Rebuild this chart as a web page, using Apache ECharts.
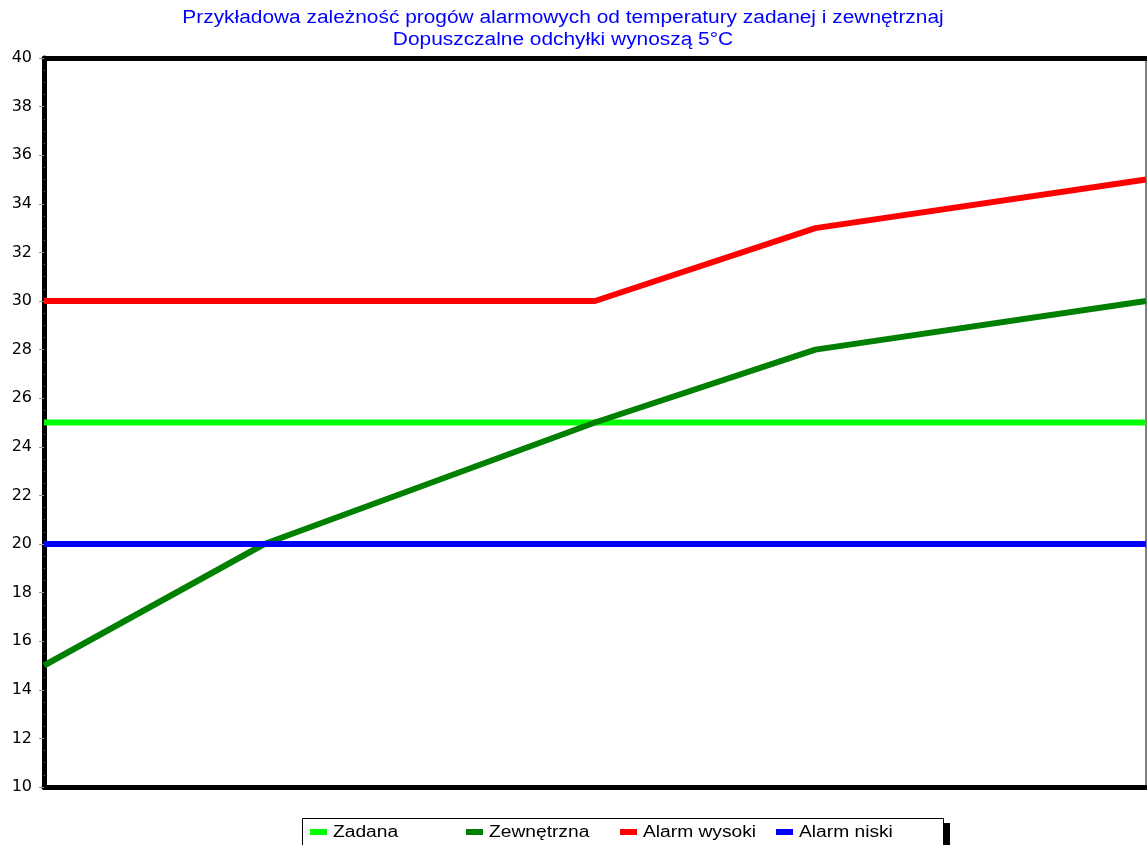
<!DOCTYPE html>
<html>
<head>
<meta charset="utf-8">
<title>Progi alarmowe</title>
<style>
  html, body { margin: 0; padding: 0; width: 100%; height: 100%; background: #fff; }
  #main { width: 1147px; height: 845px; }
</style>
<script src="https://cdn.jsdelivr.net/npm/echarts@6/dist/echarts.min.js"></script>
</head>
<body>
<div id="main"></div>
<script>
// punkty na osi X (bez opisu na wykresie)
var xPoints = [0, 20, 50, 70, 100];
var zadana = [25, 25, 25, 25, 25];
var zewnetrzna = [15, 20, 25, 28, 30];
var alarmWysoki = [30, 30, 30, 33, 35];
var alarmNiski = [20, 20, 20, 20, 20];

var titleLines = [
  'Przykładowa zależność progów alarmowych od temperatury zadanej i zewnętrznaj',
  'Dopuszczalne odchyłki wynoszą 5°C'
];
var seriesNames = ['Zadana', 'Zewnętrzna', 'Alarm wysoki', 'Alarm niski'];
var seriesColors = ['#00ff00', '#008000', '#ff0000', '#0000ff'];
var seriesData = [zadana, zewnetrzna, alarmWysoki, alarmNiski];
var legendIconX = [310, 466, 620, 776];

function pairs(ys) {
  return xPoints.map(function (x, i) { return [x, ys[i]]; });
}

var font = 'Arial, "Liberation Sans", sans-serif';

// tytul i legenda rysowane jako tekst rozciagniety w poziomie (jak w oryginale)
var graphics = [];
titleLines.forEach(function (t, i) {
  graphics.push({
    type: 'text', x: 563, y: 18 + i * 22, scaleX: 1.16,
    style: { text: t, fill: '#0000ff', font: '18px ' + font, textAlign: 'center', textVerticalAlign: 'middle' }
  });
});
graphics.push(
  { type: 'rect', shape: { x: 944, y: 823, width: 6, height: 30 }, style: { fill: '#000' }, z: 1 },
  { type: 'rect', shape: { x: 302.5, y: 818.5, width: 641, height: 40 }, style: { fill: '#fff', stroke: '#000', lineWidth: 1 }, z: 2 }
);
seriesNames.forEach(function (n, i) {
  graphics.push(
    { type: 'rect', z: 3, shape: { x: legendIconX[i], y: 829, width: 17, height: 6 }, style: { fill: seriesColors[i] } },
    { type: 'text', z: 3, x: legendIconX[i] + 23, y: 833, scaleX: 1.2,
      style: { text: n, fill: '#000', font: '16px ' + font, textAlign: 'left', textVerticalAlign: 'middle' } }
  );
});

var chart = echarts.init(document.getElementById('main'));
chart.setOption({
  animation: false,
  legend: { show: false, data: seriesNames },
  grid: {
    left: 44, right: 1, top: 58, bottom: 58,
    show: true, borderColor: '#000', borderWidth: 1
  },
  xAxis: [{
    type: 'value', min: 0, max: 100, position: 'bottom',
    axisLine: { show: true, lineStyle: { color: '#000', width: 5 } },
    axisTick: { show: false }, axisLabel: { show: false }, splitLine: { show: false }
  }, {
    type: 'value', min: 0, max: 100, position: 'top',
    axisLine: { show: true, lineStyle: { color: '#000', width: 5 } },
    axisTick: { show: false }, axisLabel: { show: false }, splitLine: { show: false }
  }],
  yAxis: {
    type: 'value', min: 10, max: 40, interval: 2,
    axisLine: { show: true, lineStyle: { color: '#000', width: 5 } },
    axisTick: { show: true, length: 5, lineStyle: { color: '#999', width: 1 } },
    minorTick: { show: true, splitNumber: 4, length: -1, lineStyle: { color: '#777' } },
    axisLabel: { color: '#000', fontSize: 16, fontFamily: '"DejaVu Sans", sans-serif', margin: 12 },
    splitLine: { show: false }
  },
  graphic: graphics,
  series: seriesNames.map(function (n, i) {
    return {
      name: n,
      type: 'line',
      data: pairs(seriesData[i]),
      symbol: 'none',
      color: seriesColors[i],
      lineStyle: { width: 6, color: seriesColors[i] }
    };
  })
});
</script>
</body>
</html>
